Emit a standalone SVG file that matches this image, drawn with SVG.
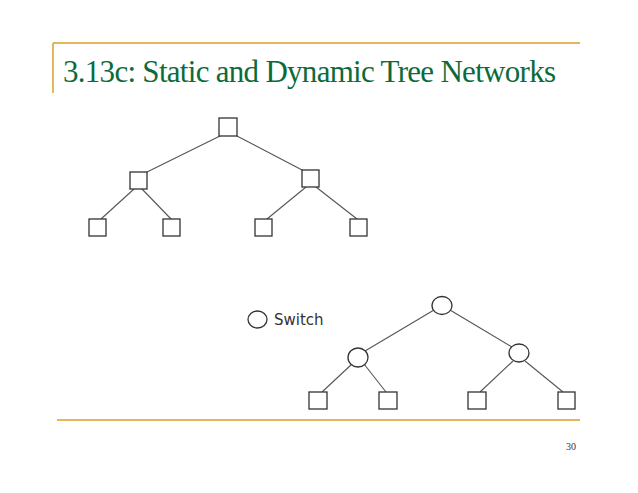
<svg xmlns="http://www.w3.org/2000/svg" width="638" height="493" viewBox="0 0 638 493">
<style>
.n{fill:#fff;stroke:#333;stroke-width:1.3}
.c line{stroke:#555;stroke-width:1.1}
.rule{stroke:#d9a020;stroke-width:1.5}
</style>
<rect width="638" height="493" fill="#fff"/>
<line class="rule" x1="53" y1="43" x2="580" y2="43"/>
<line class="rule" x1="53" y1="43" x2="53" y2="93"/>
<line class="rule" x1="57" y1="420" x2="580" y2="420"/>
<text x="63" y="82" font-family="Liberation Serif, serif" font-size="31" fill="#0b6b3a" textLength="493">3.13c: Static and Dynamic Tree Networks</text>
<text x="566" y="450" font-family="Liberation Serif, serif" font-size="10" fill="#333">30</text>
<g class="c">
<line x1="222" y1="135" x2="145" y2="173"/>
<line x1="235" y1="135" x2="304" y2="171"/>
<line x1="134" y1="189" x2="101" y2="219"/>
<line x1="142" y1="189" x2="171" y2="219"/>
<line x1="306" y1="187" x2="267" y2="219"/>
<line x1="316" y1="187" x2="357" y2="219"/>
<line x1="434" y1="310" x2="365" y2="351"/>
<line x1="450" y1="310" x2="512" y2="347"/>
<line x1="352" y1="364" x2="322" y2="392"/>
<line x1="364" y1="364" x2="386" y2="392"/>
<line x1="513" y1="361" x2="480" y2="392"/>
<line x1="525" y1="361" x2="563" y2="392"/>
</g>
<g id="s-root"><rect class="n" x="219" y="118" width="18" height="18"/></g>
<g id="s-l"><rect class="n" x="130" y="172" width="17" height="17"/></g>
<g id="s-r"><rect class="n" x="302" y="170" width="17" height="17"/></g>
<g id="s-ll"><rect class="n" x="89" y="219" width="17" height="17"/></g>
<g id="s-lr"><rect class="n" x="163" y="219" width="17" height="17"/></g>
<g id="s-rl"><rect class="n" x="255" y="219" width="17" height="17"/></g>
<g id="s-rr"><rect class="n" x="350" y="219" width="17" height="17"/></g>
<g id="legend"><ellipse class="n" cx="257.5" cy="319.5" rx="9.5" ry="8.5"/><text x="274" y="325" font-family="DejaVu Sans, sans-serif" font-size="15" fill="#333">Switch</text></g>
<g id="d-root"><ellipse class="n" cx="442" cy="305.5" rx="10" ry="9"/></g>
<g id="d-l"><ellipse class="n" cx="358" cy="357.5" rx="10" ry="9.5"/></g>
<g id="d-r"><ellipse class="n" cx="519" cy="353" rx="10" ry="9"/></g>
<g id="d-ll"><rect class="n" x="309" y="392" width="18" height="17"/></g>
<g id="d-lr"><rect class="n" x="379" y="392" width="18" height="17"/></g>
<g id="d-rl"><rect class="n" x="468" y="392" width="18" height="17"/></g>
<g id="d-rr"><rect class="n" x="558" y="392" width="17" height="17"/></g>
</svg>
